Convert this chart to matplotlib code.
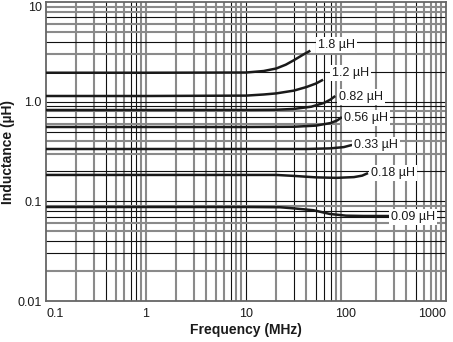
import matplotlib.pyplot as plt
import numpy as np

plt.rcParams['font.family'] = ['Liberation Sans', 'DejaVu Sans']

# inductance vs frequency, one curve per part value
freq_18 = [0.1, 1, 10, 15, 20, 25, 30, 37, 44]
ind_18 = [1.95, 1.95, 1.96, 2.03, 2.15, 2.35, 2.6, 2.95, 3.25]

freq_12 = [0.1, 1, 10, 15, 20, 30, 40, 50, 59]
ind_12 = [1.14, 1.14, 1.15, 1.18, 1.21, 1.29, 1.4, 1.52, 1.66]

freq_082 = [0.1, 1, 10, 20, 30, 45, 60, 70, 78]
ind_082 = [0.825, 0.825, 0.826, 0.83, 0.845, 0.89, 0.97, 1.05, 1.14]

freq_056 = [0.1, 1, 10, 30, 50, 70, 82, 91]
ind_056 = [0.557, 0.557, 0.557, 0.56, 0.575, 0.61, 0.65, 0.70]

freq_033 = [0.1, 1, 10, 40, 70, 95, 115]
ind_033 = [0.335, 0.335, 0.335, 0.335, 0.34, 0.35, 0.368]

freq_018 = [0.1, 1, 10, 20, 30, 50, 80, 120, 145, 166]
ind_018 = [0.184, 0.184, 0.184, 0.184, 0.18, 0.174, 0.172, 0.175, 0.181, 0.192]

freq_009 = [0.1, 1, 10, 22, 30, 47, 69, 100, 150, 275]
ind_009 = [0.0877, 0.0877, 0.0877, 0.0872, 0.085, 0.0815, 0.0747, 0.0718, 0.0713, 0.0712]

curves = [
    (freq_18, ind_18, '1.8 µH', (8, 6)),
    (freq_12, ind_12, '1.2 µH', (9, 7)),
    (freq_082, ind_082, '0.82 µH', (4, -1)),
    (freq_056, ind_056, '0.56 µH', (2, -1)),
    (freq_033, ind_033, '0.33 µH', (2, 0)),
    (freq_018, ind_018, '0.18 µH', (3, 0)),
    (freq_009, ind_009, '0.09 µH', (1, -1)),
]

x_ticks = [0.1, 1, 10, 100, 1000]
x_labels = ['0.1', '1', '10', '100', '1000']
y_ticks = [0.01, 0.1, 1, 10]
y_labels = ['0.01', '0.1', '1.0', '10']

# minor grid colouring (gray or black) per decade multiple 2..9
gray = '#8a8a8a'
black = '#111111'
x_minor_col = [
    [gray, gray, black, gray, gray, black, black, gray],
    [gray, gray, gray, gray, gray, black, gray, gray],
    [gray, black, gray, black, black, black, gray, gray],
    [gray, gray, gray, black, gray, gray, gray, gray],
]
x_major_col = [gray, gray, black, None]
y_minor_col = [
    [gray, black, black, gray, gray, black, black, gray],
    [black, gray, gray, black, gray, black, gray, black],
    [black, gray, black, gray, gray, black, gray, gray],
]
y_major_col = [None, black, black, None]

fig = plt.figure(figsize=(4.53, 3.42), dpi=100)
ax = fig.add_axes([46 / 453, 41 / 342, 400 / 453, 299 / 342])
ax.set_xscale('log')
ax.set_yscale('log')
ax.set_xlim(0.1, 1000)
ax.set_ylim(0.01, 10)

def grid_line(vertical, v, col):
    lw = 1.5 if col == gray else 0.8
    if vertical:
        ax.axvline(v, color=col, lw=lw, zorder=1)
    else:
        ax.axhline(v, color=col, lw=lw, zorder=1)

for d, base in enumerate([0.1, 1, 10, 100]):
    for k, col in enumerate(x_minor_col[d]):
        grid_line(True, base * (k + 2), col)
    if x_major_col[d] is not None and d > 0:
        grid_line(True, base, x_major_col[d])
for d, base in enumerate([0.01, 0.1, 1]):
    for k, col in enumerate(y_minor_col[d]):
        grid_line(False, base * (k + 2), col)
    if y_major_col[d] is not None:
        grid_line(False, base, y_major_col[d])

for fx, fy, name, off in curves:
    ax.plot(fx, fy, color='#1a1a1a', lw=1.8, zorder=3, solid_capstyle='butt')
    ax.annotate(name, (fx[-1], fy[-1]), xytext=off, textcoords='offset pixels',
                ha='left', va='center', fontsize=9, color='#1a1a1a', zorder=4,
                bbox=dict(boxstyle='square,pad=0.15', fc='white', ec='none'))

for s in ax.spines.values():
    s.set_color('#666666')
    s.set_linewidth(1.3)
    s.set_zorder(2)

ax.set_xticks(x_ticks, x_labels)
ax.set_yticks(y_ticks, y_labels)
ax.minorticks_off()
ax.tick_params(length=0, labelsize=9, colors='#1a1a1a')
ax.tick_params(axis='y', pad=3)
ax.tick_params(axis='x', pad=5)
xl = ax.get_xticklabels()
xl[0].set_horizontalalignment('left')
xl[-1].set_horizontalalignment('right')
yl = ax.get_yticklabels()
yl[-1].set_verticalalignment('top')

ax.set_xlabel('Frequency (MHz)', fontsize=10, fontweight='bold', color='#1a1a1a')
ax.set_ylabel('Inductance (µH)', fontsize=10, fontweight='bold', color='#1a1a1a')
ax.xaxis.set_label_coords(0.5, -0.075)
ax.yaxis.set_label_coords(-0.078, 0.5)

fig.savefig('out.png', dpi=100)
